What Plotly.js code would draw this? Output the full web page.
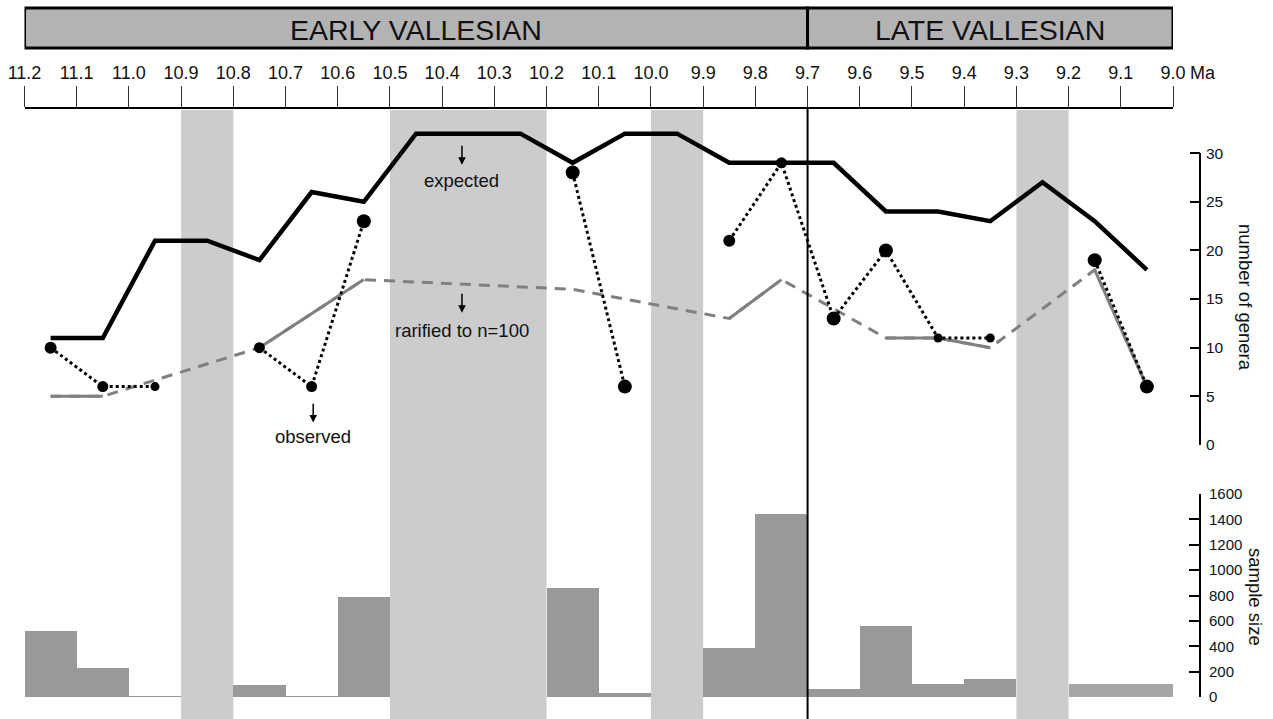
<!DOCTYPE html>
<html>
<head>
<meta charset="utf-8">
<script src="https://cdn.plot.ly/plotly-3.0.1.min.js"></script>
<style>
  html, body { margin: 0; padding: 0; background: #ffffff; }
  #chart { width: 1273px; height: 719px; }
</style>
</head>
<body>
<div id="chart"></div>
<script>
// ---------- data ----------
const ages = [11.15, 11.05, 10.95, 10.85, 10.75, 10.65, 10.55, 10.45, 10.35, 10.25, 10.15,
              10.05, 9.95, 9.85, 9.75, 9.65, 9.55, 9.45, 9.35, 9.25, 9.15, 9.05];
const expectedGenera = [11, 11, 21, 21, 19, 26, 25, 32, 32, 32, 29,
                        32, 32, 29, 29, 29, 24, 24, 23, 27, 23, 18];
const observedGenera = [10, 6, 6, null, 10, 6, 23, null, null, null, 28,
                        6, null, 21, 29, 13, 20, 11, 11, null, 19, 6];
const rarefiedGenera = [5, 5, null, null, 10, null, 17, null, null, null, 16,
                        null, null, 13, 17, null, 11, 11, 10, null, 18, 6];
const sampleSize = [520, 230, 8, null, 95, 8, 790, null, null, null, 860,
                    30, null, 390, 1440, 65, 560, 100, 145, null, 100, 100];
const rarefiedSolidRuns = [[11.15, 11.05], [10.75, 10.55], [9.85, 9.75], [9.55, 9.35], [9.15, 9.05]];
const gapIntervals = [[10.9, 10.8], [10.5, 10.2], [10.0, 9.9], [9.3, 9.2]];
const stageNames = ['EARLY VALLESIAN', 'LATE VALLESIAN'];
const stageBounds = [[11.2, 9.7], [9.7, 9.0]];
const stageBoundary = 9.7;
const tickLabels = ['11.2', '11.1', '11.0', '10.9', '10.8', '10.7', '10.6', '10.5', '10.4', '10.3', '10.2',
                    '10.1', '10.0', '9.9', '9.8', '9.7', '9.6', '9.5', '9.4', '9.3', '9.2', '9.1', '9.0'];
const generaTicks = [0, 5, 10, 15, 20, 25, 30];
const sampleTicks = [0, 200, 400, 600, 800, 1000, 1200, 1400, 1600];

// ---------- styles ----------
const W = 1273, H = 719;
const FONT = 'Liberation Sans, Arial, Helvetica, sans-serif';
const px = v => v / W;            // horizontal pixel -> paper
const py = v => 1 - v / H;        // vertical pixel -> paper
const obsDotSize = [12, 11, 9, 0, 11, 11, 14, 0, 0, 0, 14, 14, 0, 12, 11, 14, 14, 9, 9, 0, 14, 14];
const barColors = sampleSize.map((v, i) => (ages[i] < 9.2 ? '#a6a6a6' : '#999999'));

// solid rarefied pieces (runs of connected bins)
const solidX = [], solidY = [];
rarefiedSolidRuns.forEach(run => {
  ages.forEach((a, i) => {
    if (a <= run[0] + 1e-9 && a >= run[1] - 1e-9 && rarefiedGenera[i] !== null) {
      solidX.push(a); solidY.push(rarefiedGenera[i]);
    }
  });
  solidX.push(null); solidY.push(null);
});

const traces = [
  { type: 'bar', x: ages, y: sampleSize, xaxis: 'x', yaxis: 'y2', width: 0.1,
    marker: { color: barColors, line: { width: 0 } }, hoverinfo: 'skip', showlegend: false },
  { type: 'scatter', mode: 'lines', x: ages, y: rarefiedGenera, connectgaps: true,
    line: { color: '#808080', width: 3, dash: '11px,8px' }, hoverinfo: 'skip', showlegend: false },
  { type: 'scatter', mode: 'lines', x: solidX, y: solidY, connectgaps: false,
    line: { color: '#808080', width: 3 }, hoverinfo: 'skip', showlegend: false },
  { type: 'scatter', mode: 'lines', x: ages, y: expectedGenera,
    line: { color: '#000000', width: 4.5 }, hoverinfo: 'skip', showlegend: false },
  { type: 'scatter', mode: 'lines+markers', x: ages, y: observedGenera, connectgaps: false,
    line: { color: '#000000', width: 3, dash: 'dot' },
    marker: { color: '#000000', size: obsDotSize, opacity: 1, line: { width: 0 } },
    hoverinfo: 'skip', showlegend: false }
];

const shapes = [];
gapIntervals.forEach(g => shapes.push({
  type: 'rect', xref: 'x', yref: 'paper', x0: g[0], x1: g[1], y0: 0, y1: py(110),
  fillcolor: '#cccccc', line: { width: 0 }, layer: 'below'
}));
stageBounds.forEach(b => shapes.push({
  type: 'rect', xref: 'x', yref: 'paper', x0: b[0], x1: b[1], y0: py(48), y1: py(8),
  fillcolor: '#b3b3b3', line: { color: '#000000', width: 3 }, layer: 'above'
}));
shapes.push({ type: 'line', xref: 'x', yref: 'paper', x0: stageBoundary, x1: stageBoundary,
  y0: 0, y1: py(107), line: { color: '#000000', width: 2 }, layer: 'above' });
// genera axis spine (only over 0..30)
shapes.push({ type: 'line', xref: 'paper', yref: 'y', x0: px(1200), x1: px(1200),
  y0: generaTicks[0], y1: generaTicks[generaTicks.length - 1], line: { color: '#000000', width: 2 } });

const annFont = { family: FONT, size: 18.5, color: '#111111' };
const annotations = [];
stageNames.forEach((s, i) => annotations.push({
  xref: 'x', yref: 'paper', x: (stageBounds[i][0] + stageBounds[i][1]) / 2, y: py(30),
  text: s, showarrow: false, xanchor: 'center', yanchor: 'middle',
  font: { family: FONT, size: 28.5, color: '#111111' }
}));
annotations.push({ xref: 'paper', yref: 'paper', x: px(1188), y: py(73), text: 'Ma',
  showarrow: false, xanchor: 'left', yanchor: 'middle', font: { family: FONT, size: 18, color: '#111111' } });
annotations.push({ xref: 'paper', yref: 'paper', x: px(1246), y: py(297), text: 'number of genera',
  textangle: 90, showarrow: false, xanchor: 'center', yanchor: 'middle',
  font: { family: FONT, size: 18.5, color: '#111111' } });
annotations.push({ xref: 'paper', yref: 'paper', x: px(1256), y: py(597), text: 'sample size',
  textangle: 90, showarrow: false, xanchor: 'center', yanchor: 'middle',
  font: { family: FONT, size: 18.5, color: '#111111' } });

const labels = [
  { text: 'expected', x: 10.362, y: 27.2, head: 28.8, tail: 30.9 },
  { text: 'rarified to n=100', x: 10.362, y: 11.8, head: 13.6, tail: 15.7 },
  { text: 'observed', x: 10.647, y: 0.9, head: 2.3, tail: 4.4 }
];
labels.forEach(l => {
  annotations.push({ xref: 'x', yref: 'y', x: l.x, y: l.y, text: l.text, showarrow: false,
    xanchor: 'center', yanchor: 'middle', font: annFont });
  annotations.push({ xref: 'x', yref: 'y', x: l.x, y: l.head, ax: l.x, ay: l.tail,
    axref: 'x', ayref: 'y', text: '', showarrow: true, arrowhead: 2, arrowsize: 1,
    arrowwidth: 1.5, arrowcolor: '#000000', standoff: 0 });
});

const layout = {
  width: W, height: H,
  margin: { l: 0, r: 0, t: 0, b: 0 },
  paper_bgcolor: '#ffffff', plot_bgcolor: 'rgba(0,0,0,0)',
  showlegend: false, bargap: 0,
  font: { family: FONT, color: '#111111' },
  xaxis: {
    domain: [px(24.5), px(1173)], range: [11.2, 9.0], side: 'top', anchor: 'free',
    position: py(107), showline: true, linecolor: '#000000', linewidth: 1.5,
    ticks: 'outside', ticklen: 21, tickwidth: 1, tickcolor: '#333333',
    tickmode: 'array', tickvals: tickLabels.map(Number), ticktext: tickLabels,
    tickfont: { family: FONT, size: 18, color: '#111111' },
    showgrid: false, zeroline: false, fixedrange: true
  },
  yaxis: {
    domain: [py(445), py(114)], range: [0, (445 - 114) / 9.73], side: 'right', anchor: 'free',
    position: px(1200), showline: false, ticks: 'inside', ticklen: 10, tickwidth: 2,
    tickcolor: '#000000', tickmode: 'array', tickvals: generaTicks, ticklabelstandoff: 5,
    tickfont: { family: FONT, size: 15.5, color: '#111111' },
    showgrid: false, zeroline: false, fixedrange: true
  },
  yaxis2: {
    domain: [py(697), py(494)], range: [0, 1600], side: 'right', anchor: 'free',
    position: px(1200), showline: true, linecolor: '#000000', linewidth: 2,
    ticks: 'inside', ticklen: 10, tickwidth: 2, tickcolor: '#000000', ticklabelstandoff: 5,
    tickmode: 'array', tickvals: sampleTicks,
    tickfont: { family: FONT, size: 15, color: '#111111' },
    showgrid: false, zeroline: false, fixedrange: true
  },
  shapes: shapes,
  annotations: annotations
};

Plotly.newPlot('chart', traces, layout, { staticPlot: true, displayModeBar: false });
</script>
</body>
</html>
